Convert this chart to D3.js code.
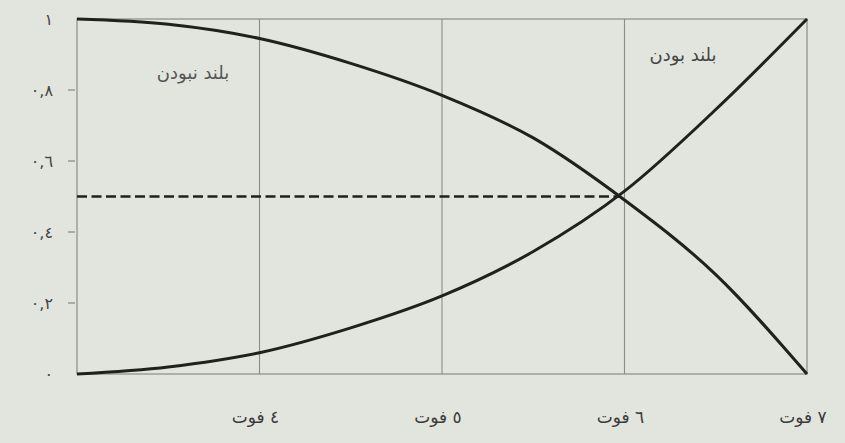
<!DOCTYPE html>
<html>
<head>
<meta charset="utf-8">
<script src="https://cdn.jsdelivr.net/npm/d3@7"></script>
<style>
  html, body { margin: 0; padding: 0; background: #e2e4de; }
  svg { display: block; }
</style>
</head>
<body>
<svg id="chart" width="845" height="443"></svg>
<script>
// ---- data ----
const xTicks = [4, 5, 6, 7];
const xTickLabels = ["٤ فوت", "٥ فوت", "٦ فوت", "٧ فوت"];
const yTicks = [0, 0.2, 0.4, 0.6, 0.8, 1];
const yTickLabels = ["٠", "٠,٢", "٠,٤", "٠,٦", "٠,٨", "١"];
const heights = [3.0, 3.5, 4.0, 4.5, 5.0, 5.5, 6.0, 6.5, 7.0];
const notTall = [1.0, 0.985, 0.945, 0.875, 0.785, 0.665, 0.49, 0.28, 0.0];
const tall    = [0.0, 0.02, 0.06, 0.13, 0.22, 0.345, 0.515, 0.745, 1.0];
const crossHeight = 5.97;
const crossLevel = 0.5;
const labelNotTall = "بلند نبودن";
const labelTall = "بلند بودن";

// ---- drawing ----
const svg = d3.select("#chart");
const x = d3.scaleLinear().domain([3, 7]).range([77, 807]);
const y = d3.scaleLinear().domain([0, 1]).range([374, 19]);
const font = "'DejaVu Sans', 'Noto Sans', sans-serif";

// frame
svg.append("rect")
  .attr("x", x(3)).attr("y", y(1))
  .attr("width", x(7) - x(3)).attr("height", y(0) - y(1))
  .attr("fill", "none").attr("stroke", "#8a8c88").attr("stroke-width", 1.2);

// vertical grid lines
svg.selectAll(".vgrid").data(xTicks.slice(0, 3)).enter().append("line")
  .attr("x1", d => x(d)).attr("x2", d => x(d))
  .attr("y1", y(1)).attr("y2", y(0))
  .attr("stroke", "#8a8c88").attr("stroke-width", 1.1);

// y ticks (outside marks)
svg.selectAll(".ytick").data(yTicks.filter(d => d > 0 && d < 1)).enter().append("line")
  .attr("x1", x(3) - 9).attr("x2", x(3) - 2)
  .attr("y1", d => y(d)).attr("y2", d => y(d))
  .attr("stroke", "#777").attr("stroke-width", 1);

svg.selectAll(".ylab").data(yTicks).enter().append("text")
  .attr("x", 53).attr("y", d => y(d) + 6)
  .attr("text-anchor", "end")
  .attr("font-family", font)
  .attr("font-size", 16).attr("fill", "#444")
  .attr("letter-spacing", 3)
  .attr("direction", "ltr")
  .text((d, i) => yTickLabels[i]);

// x labels
svg.selectAll(".xlab").data(xTicks).enter().append("text")
  .attr("x", d => x(d) - 4).attr("y", 423)
  .attr("text-anchor", "middle")
  .attr("font-family", font)
  .attr("font-size", 17).attr("fill", "#3a3a3a")
  .text((d, i) => xTickLabels[i]);

// curves
const line = d3.line()
  .x(d => x(d[0])).y(d => y(d[1]))
  .curve(d3.curveMonotoneX);

svg.append("path")
  .datum(heights.map((h, i) => [h, notTall[i]]))
  .attr("d", line).attr("fill", "none")
  .attr("stroke", "#1e221c").attr("stroke-width", 3);

svg.append("path")
  .datum(heights.map((h, i) => [h, tall[i]]))
  .attr("d", line).attr("fill", "none")
  .attr("stroke", "#1e221c").attr("stroke-width", 3);

// dashed line to crossing
svg.append("line")
  .attr("x1", x(3)).attr("x2", x(crossHeight))
  .attr("y1", y(crossLevel)).attr("y2", y(crossLevel))
  .attr("stroke", "#1e221c").attr("stroke-width", 2.5)
  .attr("stroke-dasharray", "10,4.5");

// region labels
svg.append("text")
  .attr("x", 193).attr("y", 79)
  .attr("text-anchor", "middle")
  .attr("font-family", font)
  .attr("font-size", 18).attr("fill", "#555")
  .text(labelNotTall);

svg.append("text")
  .attr("x", 683).attr("y", 61)
  .attr("text-anchor", "middle")
  .attr("font-family", font)
  .attr("font-size", 18).attr("fill", "#444")
  .text(labelTall);
</script>
</body>
</html>
